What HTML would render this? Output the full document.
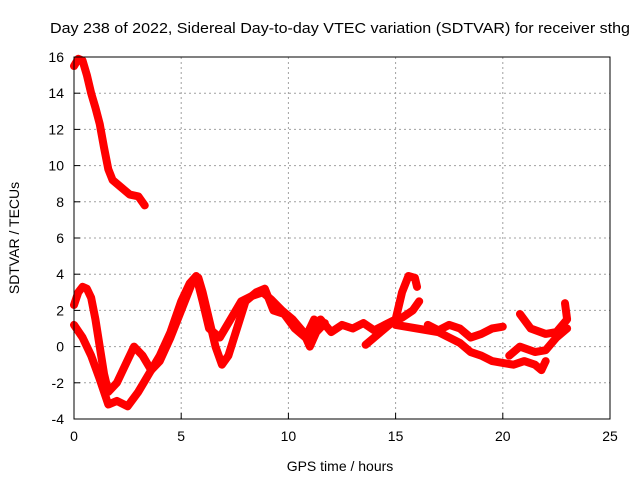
<!DOCTYPE html>
<html><head><meta charset="utf-8"><style>
body{margin:0;background:#fff}
svg{display:block;font-family:"Liberation Sans",sans-serif}
</style></head><body>
<svg id="chart" width="640" height="480" viewBox="0 0 640 480">
<rect width="640" height="480" fill="#fff"/>
<text x="50" y="33" font-size="15" textLength="580" lengthAdjust="spacingAndGlyphs">Day 238 of 2022, Sidereal Day-to-day VTEC variation (SDTVAR) for receiver sthg</text>
<text x="340" y="471" font-size="14" text-anchor="middle">GPS time / hours</text>
<text transform="translate(19,238) rotate(-90)" font-size="14" text-anchor="middle">SDTVAR / TECUs</text>
<g id="grid"></g><g id="series"></g><g id="axes"></g>
</svg>
<script>
const xTicks=[0,5,10,15,20,25];
const yTicks=[-4,-2,0,2,4,6,8,10,12,14,16];
const seriesTop=[[0,15.5],[0.2,15.9],[0.4,15.8],[0.6,15.0],[0.8,14.0],[1.0,13.2],[1.2,12.3],[1.4,11.0],[1.6,9.8],[1.8,9.2],[2.2,8.8],[2.6,8.4],[3.0,8.3],[3.3,7.8]];
const seriesB=[[0,2.3],[0.2,3.0],[0.4,3.3],[0.6,3.2],[0.8,2.7],[1.0,1.5],[1.2,0],[1.4,-1.5],[1.6,-2.5],[2.0,-2.0],[2.4,-1.0],[2.8,0],[3.2,-0.5],[3.6,-1.3],[4.0,-0.8],[4.5,0.5],[5.0,2.0],[5.5,3.5],[5.8,3.8],[6.0,3.0],[6.3,1.5],[6.6,0],[6.9,-1.0],[7.2,-0.5],[7.6,1.0],[8.0,2.5],[8.5,3.0],[8.9,3.2],[9.3,2.0],[9.8,1.8],[10.3,1.0],[10.8,0.5],[11.2,1.5]];
const seriesC=[[0,1.2],[0.4,0.5],[0.8,-0.5],[1.2,-1.8],[1.6,-3.2],[2.0,-3.0],[2.5,-3.3],[3.0,-2.5],[3.5,-1.5],[4.0,-0.5],[4.5,0.8],[5.0,2.5],[5.4,3.5],[5.7,3.9],[6.0,2.5],[6.3,1.0],[6.8,0.5],[7.3,1.5],[7.8,2.5],[8.3,2.8],[8.8,3.0],[9.2,2.6],[9.7,2.0],[10.2,1.5],[10.7,0.8],[11.0,0.0],[11.3,0.8],[11.7,1.3]];
const seriesD=[[11,1.0],[11.5,1.5],[12,0.8],[12.5,1.2],[13,1.0],[13.5,1.3],[14,0.9],[14.5,1.2],[15,1.5],[15.3,3.0],[15.6,3.9],[15.9,3.8],[16.0,3.3]];
const seriesE=[[13.6,0.1],[14.3,0.8],[14.8,1.3],[15.3,1.6],[15.8,2.0],[16.1,2.5]];
const seriesF=[[15,1.2],[16,1.0],[17,0.8],[17.5,0.5],[18,0.2],[18.5,-0.3],[19,-0.5],[19.5,-0.8],[20,-0.9],[20.5,-1.0],[21,-0.8],[21.5,-1.0],[21.8,-1.3],[22,-0.8]];
const seriesG=[[16.5,1.2],[17,0.9],[17.5,1.2],[18,1.0],[18.5,0.5],[19,0.7],[19.5,1.0],[20,1.1]];
const seriesH=[[20.3,-0.5],[20.8,0.0],[21.5,-0.3],[22,-0.2],[22.5,0.5],[23,1.0]];
const seriesI=[[20.8,1.8],[21.3,1.0],[22,0.7],[22.5,0.8],[23,1.5],[22.9,2.4]];
const allSeries=[seriesTop,seriesB,seriesC,seriesD,seriesE,seriesF,seriesG,seriesH,seriesI];
const X0=74,X1=610,Y0=419,Y1=57;
const sx=h=>X0+(h-0)/25*(X1-X0);
const sy=v=>Y0-(v+4)/20*(Y0-Y1);
const NS="http://www.w3.org/2000/svg";
const grid=document.getElementById('grid'),axes=document.getElementById('axes'),ser=document.getElementById('series');
function mk(tag,attrs,parent){const e=document.createElementNS(NS,tag);for(const k in attrs)e.setAttribute(k,attrs[k]);parent.appendChild(e);return e;}
xTicks.forEach(t=>{
  if(t>0&&t<25){const g=mk('line',{x1:sx(t),x2:sx(t),y1:Y0,y2:Y1,stroke:'#a0a0a0','stroke-dasharray':'2,3'},grid);
  
  }
  const tk=mk('line',{x1:sx(t),x2:sx(t),y1:Y0,y2:Y0-6,stroke:'#000'},axes);
  
  
  const tx=mk('text',{x:sx(t),y:Y0+22,'font-size':14,'text-anchor':'middle'},axes);tx.textContent=t;
  
  
});
yTicks.forEach(t=>{
  if(t>-4&&t<16){const g=mk('line',{x1:X0,x2:X1,y1:sy(t),y2:sy(t),stroke:'#a0a0a0','stroke-dasharray':'2,3'},grid);
  
  }
  const tk=mk('line',{x1:X0,x2:X0+6,y1:sy(t),y2:sy(t),stroke:'#000'},axes);
  
  
  const tx=mk('text',{x:X0-10,y:sy(t)+5,'font-size':14,'text-anchor':'end'},axes);tx.textContent=t;
  
  
});
const frame=mk('rect',{x:X0,y:Y1,width:X1-X0,height:Y0-Y1,fill:'none',stroke:'#000'},axes);


allSeries.forEach(s=>{
  const p=mk('polyline',{points:s.map(d=>sx(d[0])+','+sy(d[1])).join(' '),fill:'none',stroke:'#f00','stroke-width':8,'stroke-linejoin':'round','stroke-linecap':'round'},ser);
  
  
});
</script>
</body></html>
